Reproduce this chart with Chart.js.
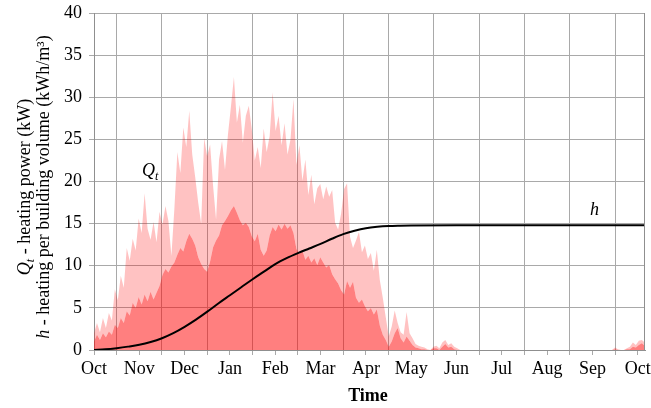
<!DOCTYPE html>
<html>
<head>
<meta charset="utf-8">
<script src="https://cdn.jsdelivr.net/npm/chart.js@4.4.1/dist/chart.umd.min.js"></script>
<style>
  html, body { margin: 0; padding: 0; background: #fff; }
  #wrap { width: 651px; height: 408px; }
  canvas { display: block; }
</style>
</head>
<body>
<div id="wrap"><canvas id="c" width="651" height="408"></canvas></div>
<script>
// Month tick labels, one per month from October to the following October
const monthLabels = ['Oct', 'Nov', 'Dec', 'Jan', 'Feb', 'Mar', 'Apr', 'May', 'Jun', 'Jul', 'Aug', 'Sep', 'Oct'];

// Heating power Q_t (kW), sampled every 2 days from 1 October
const stepDays = 2;
const daysPerMonth = 30.44;

// upper envelope of the hourly peaks
const qPeak = [
  2.0, 3.2, 2.1, 3.8, 2.6, 4.4, 3.5, 7.2, 5.9, 8.8,
  7.4, 12.1, 10.6, 13.2, 11.8, 15.6, 13.9, 18.6, 14.4, 13.1,
  15.2, 12.8, 16.4, 14.9, 17.1, 15.3, 11.2, 16.8, 23.5, 21.0,
  26.4, 24.1, 28.4, 23.2, 20.5, 17.5, 15.0, 25.2, 23.0, 24.4,
  19.5, 15.5, 22.6, 24.8, 21.4, 25.6, 28.9, 32.4, 27.0, 29.1,
  24.6, 27.8, 29.0, 26.2, 22.5, 24.1, 21.6, 26.3, 23.5, 25.4,
  30.6, 26.0, 27.8, 24.3, 26.9, 23.2, 25.0, 29.8, 22.0, 24.3,
  20.1, 22.6, 18.4, 20.8, 17.3, 19.2, 19.7, 17.9, 19.4, 18.2,
  19.0, 15.1, 14.3, 16.2, 19.1, 19.8, 13.4, 12.1, 13.0, 14.0,
  11.6, 12.4, 10.8, 11.5, 9.4, 11.9, 8.3, 6.2, 3.9, 1.6,
  2.8, 4.7, 3.2, 2.1, 1.8, 4.5, 2.0, 1.4, 0.7, 0.5,
  0.4, 0.3, 0.1, 0, 0.4, 0.5, 0.2, 0.9, 1.2, 0.6,
  0.8, 0.4, 0.2, 0, 0, 0, 0, 0, 0, 0,
  0, 0, 0, 0, 0, 0, 0, 0, 0, 0,
  0, 0, 0, 0, 0, 0, 0, 0, 0, 0,
  0, 0, 0, 0, 0, 0, 0, 0, 0, 0,
  0, 0, 0, 0, 0, 0, 0, 0, 0, 0,
  0, 0, 0, 0, 0, 0.3, 0.1, 0, 0, 0.2,
  0.4, 0.9, 0.6, 1.1, 1.2, 0.9
];

// dense core of the hourly values
const qBase = [
  1.0, 1.8, 1.2, 2.0, 1.5, 2.2, 1.8, 3.0, 2.6, 3.8,
  3.2, 4.6, 4.1, 5.6, 5.0, 6.3, 5.4, 6.6, 5.8, 6.9,
  6.0, 6.8, 7.6, 8.9, 9.6, 9.2, 9.9, 10.4, 11.3, 12.1,
  11.7, 12.9, 13.8, 13.2, 12.4, 11.0, 10.2, 9.6, 9.3, 10.5,
  12.2, 13.0, 13.6, 14.8, 15.3, 15.9, 16.6, 17.1, 16.3, 15.4,
  14.8, 15.1, 14.6, 13.5, 12.9, 13.8, 11.9, 11.2, 11.8, 13.6,
  14.6, 14.1, 14.9, 14.3, 15.0, 14.4, 14.8, 13.9, 12.0, 11.4,
  11.8, 10.7, 11.2, 10.4, 10.9, 10.1, 11.0, 10.4, 9.8, 10.1,
  9.0, 8.4, 7.9, 7.1, 6.6, 8.2, 7.4, 8.1, 6.2, 5.6,
  6.0, 5.2, 4.6, 5.0, 4.2, 4.8, 2.9, 1.8, 1.2, 0.4,
  1.0, 2.0, 2.6, 1.4, 0.9, 1.6, 1.1, 0.6, 0.3, 0.2,
  0.1, 0.1, 0, 0, 0.2, 0.2, 0, 0.4, 0.7, 0.3,
  0.4, 0.1, 0, 0, 0, 0, 0, 0, 0, 0,
  0, 0, 0, 0, 0, 0, 0, 0, 0, 0,
  0, 0, 0, 0, 0, 0, 0, 0, 0, 0,
  0, 0, 0, 0, 0, 0, 0, 0, 0, 0,
  0, 0, 0, 0, 0, 0, 0, 0, 0, 0,
  0, 0, 0, 0, 0, 0.1, 0, 0, 0, 0.1,
  0.1, 0.4, 0.3, 0.6, 0.8, 0.5
];

// Cumulative heating per building volume h (kWh/m³), position in months from 1 October
const hMonth = [0, 0.25, 0.5, 0.75, 1, 1.25, 1.5, 1.75, 2, 2.25, 2.5, 2.75, 3, 3.25, 3.5, 3.75,
  4, 4.25, 4.5, 4.75, 5, 5.25, 5.5, 5.75, 6, 6.25, 6.5, 6.75, 7, 8, 9, 10, 11, 12, 12.16];
const hValue = [0, 0.08, 0.22, 0.4, 0.62, 0.95, 1.4, 2.0, 2.75, 3.6, 4.55, 5.55, 6.5, 7.45, 8.4, 9.3,
  10.2, 10.9, 11.5, 12.05, 12.6, 13.2, 13.75, 14.15, 14.45, 14.62, 14.72, 14.76, 14.78, 14.8, 14.8, 14.8, 14.8, 14.8, 14.8];

const X_MAX = 12.16;
const SERIF = '"Liberation Serif", "Times New Roman", serif';
const GRID = '#a9a9a9';
const AXIS = '#8f8f8f';

const sampled = arr => arr.map((v, i) => ({ x: i * stepDays / daysPerMonth, y: v }));

// draws a sequence of differently styled text runs centred horizontally on cx
function drawRuns(ctx, runs, cx, cy) {
  let total = 0;
  runs.forEach(r => { ctx.font = r.font; r.w = ctx.measureText(r.text).width; total += r.w; });
  let x = cx - total / 2;
  ctx.textAlign = 'left';
  ctx.textBaseline = 'alphabetic';
  runs.forEach(r => {
    ctx.font = r.font;
    ctx.fillText(r.text, x, cy + (r.dy || 0));
    x += r.w;
  });
}

const decorations = {
  id: 'decorations',
  afterDraw(chart) {
    const { ctx, chartArea: a } = chart;
    ctx.save();
    // right edge of the plot frame
    ctx.strokeStyle = AXIS;
    ctx.lineWidth = 1;
    const rx = Math.round(a.right) - 0.5;
    ctx.beginPath();
    ctx.moveTo(rx, a.top);
    ctx.lineTo(rx, a.bottom);
    ctx.stroke();

    ctx.fillStyle = '#000';
    const reg = '18px ' + SERIF;
    const ita = 'italic 18px ' + SERIF;
    const sub = 'italic 12px ' + SERIF;

    // vertical axis titles
    ctx.save();
    ctx.translate(0, 187);
    ctx.rotate(-Math.PI / 2);
    drawRuns(ctx, [
      { text: 'Q', font: ita },
      { text: 't', font: sub, dy: 4 },
      { text: ' - heating power (kW)', font: reg }
    ], 0, 30);
    drawRuns(ctx, [
      { text: 'h', font: ita },
      { text: ' - heating per building volume (kWh/m³)', font: reg }
    ], 0, 49);
    ctx.restore();

    // horizontal axis title
    ctx.font = 'bold 18px ' + SERIF;
    ctx.textAlign = 'center';
    ctx.textBaseline = 'alphabetic';
    ctx.fillText('Time', 368, 401);

    // series labels inside the plot
    ctx.textAlign = 'left';
    ctx.font = ita;
    ctx.fillText('Q', 142, 176);
    ctx.font = sub;
    ctx.fillText('t', 155, 180);
    ctx.font = ita;
    ctx.fillText('h', 590, 215);
    ctx.restore();
  }
};

new Chart(document.getElementById('c'), {
  type: 'line',
  data: {
    datasets: [
      {
        label: 'Q_t core',
        data: sampled(qBase),
        fill: 'origin',
        backgroundColor: 'rgba(255, 0, 0, 0.5)',
        borderColor: 'transparent',
        borderWidth: 0,
        pointRadius: 0,
        tension: 0,
        order: 3
      },
      {
        label: 'Q_t peaks',
        data: sampled(qPeak),
        fill: '-1',
        backgroundColor: 'rgba(255, 0, 0, 0.24)',
        borderColor: 'transparent',
        borderWidth: 0,
        pointRadius: 0,
        tension: 0,
        order: 2
      },
      {
        label: 'h',
        data: hMonth.map((m, i) => ({ x: m, y: hValue[i] })),
        fill: false,
        borderColor: '#000',
        borderWidth: 2,
        pointRadius: 0,
        cubicInterpolationMode: 'monotone',
        order: 1
      }
    ]
  },
  options: {
    responsive: false,
    devicePixelRatio: 1,
    animation: false,
    events: [],
    layout: { padding: { top: 13, right: 6, left: 0, bottom: 0 } },
    plugins: { legend: { display: false }, tooltip: { enabled: false } },
    scales: {
      x: {
        type: 'linear',
        min: 0,
        max: X_MAX,
        afterBuildTicks(scale) {
          const t = [];
          for (let k = 0; k <= 24; k++) t.push({ value: k * 0.5 });
          scale.ticks = t;
        },
        afterFit(scale) {
          scale.height = 58;
          scale.paddingLeft = 0;
          scale.paddingRight = 0;
        },
        ticks: {
          autoSkip: false,
          maxRotation: 0,
          color: '#000',
          padding: 3,
          font: { family: SERIF, size: 18 },
          callback: v => Number.isInteger(v) ? monthLabels[v] : ''
        },
        grid: {
          color: c => (c.tick && c.tick.value % 1 !== 0) ? GRID : 'rgba(0,0,0,0)',
          tickColor: GRID,
          tickLength: 5,
          lineWidth: 1
        },
        border: { color: AXIS, width: 1 }
      },
      y: {
        min: 0,
        max: 40,
        afterFit(scale) {
          scale.width = 94;
          scale.paddingTop = 0;
          scale.paddingBottom = 0;
        },
        ticks: {
          stepSize: 5,
          color: '#000',
          padding: 7,
          font: { family: SERIF, size: 18 }
        },
        grid: {
          color: GRID,
          tickColor: GRID,
          tickLength: 5,
          lineWidth: 1
        },
        border: { color: AXIS, width: 1 }
      }
    }
  },
  plugins: [decorations]
});
</script>
</body>
</html>
